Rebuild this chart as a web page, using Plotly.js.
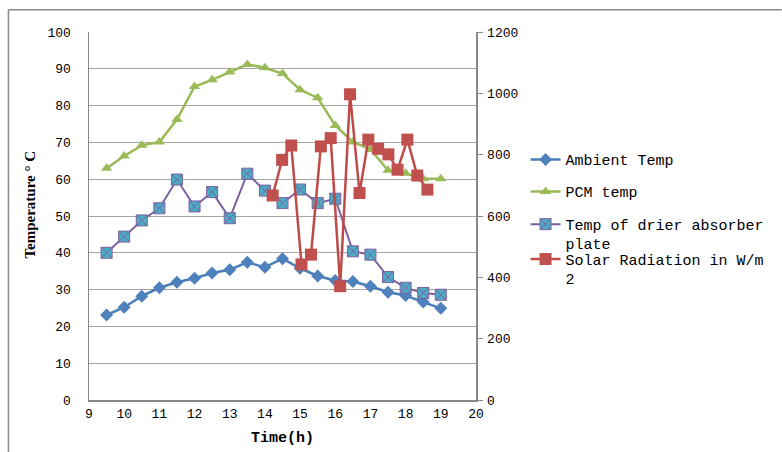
<!DOCTYPE html>
<html>
<head>
<meta charset="utf-8">
<script src="https://cdn.plot.ly/plotly-3.0.1.min.js"></script>
<style>
html,body{margin:0;padding:0;background:#fff;}
#chart{width:782px;height:452px;}
</style>
</head>
<body>
<div id="chart"></div>
<script>
// Time (h) for the three temperature series
const timeTemp = [9.5, 10, 10.5, 11, 11.5, 12, 12.5, 13, 13.5, 14, 14.5, 15, 15.5, 16, 16.5, 17, 17.5, 18, 18.5, 19];
const ambientTemp = [23.1, 25.2, 28.2, 30.5, 32.0, 33.1, 34.5, 35.4, 37.4, 36.1, 38.4, 35.8, 33.7, 32.5, 32.2, 30.9, 29.3, 28.4, 26.6, 24.9];
const pcmTemp = [63.0, 66.3, 69.2, 70.1, 76.2, 85.2, 87.0, 89.1, 91.2, 90.3, 88.7, 84.3, 82.1, 74.6, 70.1, 68.1, 62.4, 61.6, 60.1, 60.1];
const absorberTemp = [40.0, 44.4, 48.8, 52.1, 59.9, 52.6, 56.5, 49.4, 61.5, 56.9, 53.5, 57.2, 53.5, 54.7, 40.4, 39.5, 33.4, 30.5, 29.1, 28.6];
// Solar radiation (right axis)
const timeSolar = [14.22, 14.49, 14.75, 15.04, 15.31, 15.59, 15.87, 16.14, 16.42, 16.69, 16.94, 17.22, 17.51, 17.77, 18.05, 18.33, 18.62];
const solarRadiation = [667, 783, 830, 442, 474, 827, 854, 371, 997, 675, 849, 819, 801, 751, 849, 732, 686];
// Tick labels
const leftTicks = [0, 10, 20, 30, 40, 50, 60, 70, 80, 90, 100];
const rightTicks = [0, 200, 400, 600, 800, 1000, 1200];
const xTicks = [9, 10, 11, 12, 13, 14, 15, 16, 17, 18, 19, 20];
const seriesNames = ["Ambient Temp", "PCM temp", "Temp of drier absorber<br>plate", "Solar Radiation in W/m<br>2"];

const mono = "Liberation Mono, DejaVu Sans Mono, monospace";

const traces = [
  {x: timeTemp, y: ambientTemp, name: seriesNames[0], type: "scatter", mode: "lines+markers",
   line: {color: "#4A7EBB", width: 2.5}, marker: {symbol: "diamond", size: 10, color: "#4F81BD"},
   legend: "legend"},
  {x: timeTemp, y: pcmTemp, name: seriesNames[1], type: "scatter", mode: "lines+markers",
   line: {color: "#98B954", width: 2.5}, marker: {symbol: "triangle-up", size: 10, color: "#9BBB59"},
   legend: "legend2"},
  {x: timeTemp, y: absorberTemp, name: seriesNames[2], type: "scatter", mode: "lines+markers",
   line: {color: "#7D60A0", width: 2}, marker: {symbol: "square-x", size: 11, color: "#4BACC6", line: {color: "#7D60A0", width: 1}},
   legend: "legend3"},
  {x: timeSolar, y: solarRadiation, name: seriesNames[3], type: "scatter", mode: "lines+markers", yaxis: "y2",
   line: {color: "#BE4B48", width: 2.5}, marker: {symbol: "square", size: 12, color: "#C0504D"},
   legend: "legend4"}
];

function leg(y, size) {
  return {x: 1.128, y: y, xanchor: "left", yanchor: "top", bgcolor: "rgba(0,0,0,0)",
          font: {family: mono, size: size || 15, color: "#000"}, valign: "top", borderwidth: 0};
}

const layout = {
  width: 782, height: 452,
  margin: {l: 89, r: 304, t: 32, b: 52},
  paper_bgcolor: "#fff", plot_bgcolor: "#fff",
  font: {family: mono, size: 13, color: "#000"},
  showlegend: true,
  xaxis: {range: [9, 20], tickvals: xTicks, ticktext: xTicks.map(String), showgrid: false, zeroline: false,
          showline: true, linecolor: "#888", linewidth: 1.5, ticks: "", ticklabelstandoff: 1,
          title: {text: "<b>Time(h)</b>", font: {family: mono, size: 15}, standoff: 10}},
  yaxis: {range: [0, 100], tickvals: leftTicks, ticktext: leftTicks.map(String), showgrid: true, gridcolor: "#a6a6a6", gridwidth: 1,
          zeroline: false, showline: true, linecolor: "#888", linewidth: 1.5, ticks: "", ticklabelstandoff: 14,
          title: {text: "&nbsp;&nbsp;&nbsp;&nbsp;&nbsp;&nbsp;<b>Temperature ° C</b>", font: {family: "Liberation Serif, serif", size: 15}, standoff: 8}},
  yaxis2: {range: [0, 1200], tickvals: rightTicks, ticktext: rightTicks.map(String), overlaying: "y", side: "right",
           showgrid: false, zeroline: false, showline: true, linecolor: "#888", linewidth: 1.5,
           ticks: "outside", ticklen: 5, tickcolor: "#888", ticklabelstandoff: 2},
  legend: leg(0.698),
  legend2: leg(0.611),
  legend3: leg(0.522),
  legend4: leg(0.427),
  shapes: [
    {type: "line", xref: "paper", yref: "paper", x0: -0.2082, x1: 1.79, y0: 1.0604, y1: 1.0604, line: {color: "#888", width: 1.5}},
    {type: "line", xref: "paper", yref: "paper", x0: -0.2082, x1: -0.2082, y0: 1.0604, y1: -0.15, line: {color: "#888", width: 1.5}}
  ]
};

Plotly.newPlot("chart", traces, layout, {displayModeBar: false, staticPlot: true});
</script>
</body>
</html>
